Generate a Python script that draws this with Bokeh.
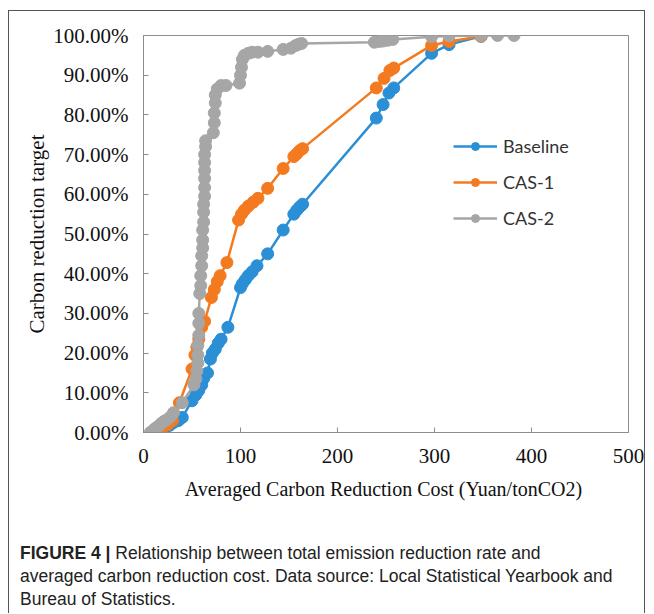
from bokeh.plotting import figure
from bokeh.layouts import column
from bokeh.models import Range1d, FixedTicker, NumeralTickFormatter, Div
from bokeh.embed import file_html
from bokeh.resources import INLINE

# ---- data ----
series_names = ["Baseline", "CAS-1", "CAS-2"]

baseline_x = [8, 10, 14, 18, 23, 27, 31, 36, 40, 50, 54, 57, 60, 62, 66, 69, 71, 74, 77, 80, 87,
              100, 102, 105, 108, 112, 117, 128, 144, 155, 158, 161, 164, 240, 247, 253, 258, 297, 315, 348]
baseline_y = [0.000, 0.003, 0.007, 0.010, 0.013, 0.018, 0.025, 0.030, 0.038, 0.080, 0.095, 0.106, 0.120,
              0.136, 0.150, 0.185, 0.200, 0.210, 0.225, 0.235, 0.265, 0.365, 0.375, 0.385, 0.395, 0.405,
              0.420, 0.450, 0.510, 0.550, 0.560, 0.568, 0.575, 0.792, 0.826, 0.855, 0.868, 0.955, 0.977, 0.998]

cas1_x = [8, 10, 13, 16, 20, 25, 30, 37, 50, 53, 55, 57, 60, 63, 70, 73, 76, 79, 86, 98, 101, 104, 108,
          113, 118, 128, 144, 155, 158, 161, 164, 240, 248, 254, 258, 297, 315, 348]
cas1_y = [0.000, 0.003, 0.006, 0.010, 0.014, 0.020, 0.030, 0.075, 0.160, 0.195, 0.215, 0.235, 0.265, 0.280,
          0.340, 0.360, 0.380, 0.395, 0.428, 0.535, 0.550, 0.560, 0.570, 0.580, 0.590, 0.615, 0.665, 0.695,
          0.702, 0.710, 0.715, 0.868, 0.892, 0.912, 0.918, 0.975, 0.985, 0.998]

cas2_x = [7, 10, 12, 15, 18, 21, 24, 28, 31, 40, 52, 54, 55, 56, 56, 56, 57, 57, 57, 58, 59, 59, 60, 60,
          61, 61, 61, 62, 62, 62, 63, 63, 63, 63, 63, 63, 64, 64, 72, 73, 73, 74, 74, 76, 80, 85, 99, 100,
          101, 102, 104, 108, 112, 118, 128, 144, 152, 157, 160, 163, 238, 243, 247, 252, 257, 297, 315,
          348, 365, 382]
cas2_y = [0.000, 0.005, 0.010, 0.015, 0.022, 0.028, 0.032, 0.040, 0.050, 0.075, 0.120, 0.135, 0.155, 0.175,
          0.195, 0.220, 0.245, 0.275, 0.300, 0.350, 0.370, 0.395, 0.420, 0.445, 0.465, 0.485, 0.510, 0.530,
          0.555, 0.575, 0.595, 0.617, 0.640, 0.660, 0.680, 0.700, 0.720, 0.735, 0.755, 0.780, 0.805, 0.830,
          0.850, 0.865, 0.874, 0.874, 0.880, 0.900, 0.920, 0.940, 0.950, 0.955, 0.958, 0.958, 0.960, 0.965,
          0.968, 0.975, 0.978, 0.980, 0.983, 0.985, 0.986, 0.988, 0.990, 0.997, 0.999, 1.000, 1.000, 1.000]

x_ticks = [0, 100, 200, 300, 400, 500]
y_ticks = [0.0, 0.1, 0.2, 0.3, 0.4, 0.5, 0.6, 0.7, 0.8, 0.9, 1.0]

caption_bold = "FIGURE 4 |"
caption_lines = ["Relationship between total emission reduction rate and",
                 "averaged carbon reduction cost. Data source: Local Statistical Yearbook and",
                 "Bureau of Statistics."]

colors = ["#2b8fd6", "#f47a20", "#a6a6a6"]
BORDER = "1px solid #555"

# ---- main figure ----
W, H = 637, 501
p = figure(width=W, height=H, output_backend="svg", toolbar_location=None,
           x_range=Range1d(0, 500), y_range=Range1d(0, 1),
           min_border_left=134, min_border_right=18, min_border_top=24, min_border_bottom=80)
p.margin = (10, 0, 0, 8)
p.styles = {"border-left": BORDER, "border-top": BORDER, "border-right": BORDER}
p.xgrid.visible = False
p.ygrid.visible = False
p.outline_line_color = "#8c8c8c"
p.outline_line_width = 1
p.background_fill_color = "white"
p.border_fill_color = "white"

for ax in (p.xaxis[0], p.yaxis[0]):
    ax.axis_line_color = "#8c8c8c"
    ax.major_tick_line_color = "#8c8c8c"
    ax.minor_tick_line_color = None
    ax.major_tick_in = 5
    ax.major_tick_out = 0
    ax.major_label_text_font = "Liberation Serif"
    ax.major_label_text_font_size = "21px"
    ax.major_label_text_color = "#111111"
    ax.axis_label_text_font = "Liberation Serif"
    ax.axis_label_text_font_style = "normal"
    ax.axis_label_text_color = "#111111"

p.xaxis.ticker = FixedTicker(ticks=x_ticks)
p.yaxis.ticker = FixedTicker(ticks=y_ticks)
p.yaxis.formatter = NumeralTickFormatter(format="0.00%")
p.xaxis.major_label_standoff = 16
p.yaxis.major_label_standoff = 15
p.xaxis.axis_label = "Averaged  Carbon Reduction Cost (Yuan/tonCO2)"
p.yaxis.axis_label = "Carbon reduction target"
p.xaxis.axis_label_text_font_size = "20px"
p.yaxis.axis_label_text_font_size = "21px"
p.xaxis.axis_label_standoff = 12
p.yaxis.axis_label_standoff = 1

all_x = [baseline_x, cas1_x, cas2_x]
all_y = [baseline_y, cas1_y, cas2_y]
for name, xs, ys, c in zip(series_names, all_x, all_y, colors):
    p.line(xs, ys, line_color=c, line_width=2.5, legend_label=name)
    p.scatter(xs, ys, size=12, fill_color=c, line_color=c, legend_label=name)

lg = p.legend[0]
lg.location = (310, 203)
lg.border_line_color = None
lg.background_fill_alpha = 0
lg.padding = 0
lg.margin = 0
lg.spacing = 14
lg.glyph_height = 20
lg.glyph_width = 44
lg.label_height = 20
lg.label_standoff = 6
lg.label_text_font = "Lato"
lg.label_text_font_size = "18px"
lg.label_text_color = "#333333"

# ---- caption ----
CH = 102
cap_html = ("<b>" + caption_bold + "</b> " + caption_lines[0] + "<br>"
            + caption_lines[1] + "<br>" + caption_lines[2])
cap = Div(text=cap_html, width=W, height=CH,
          styles={"border-left": BORDER, "border-right": BORDER, "background": "white",
                  "font-family": "'Liberation Sans', Arial, sans-serif", "font-size": "17.5px",
                  "line-height": "23px", "color": "#222222", "white-space": "nowrap",
                  "padding-top": "31px", "padding-left": "11px", "box-sizing": "border-box"})
cap.margin = (0, 0, 0, 8)

layout = column(p, cap, spacing=0)
open("out.html", "w").write(file_html(layout, INLINE))
